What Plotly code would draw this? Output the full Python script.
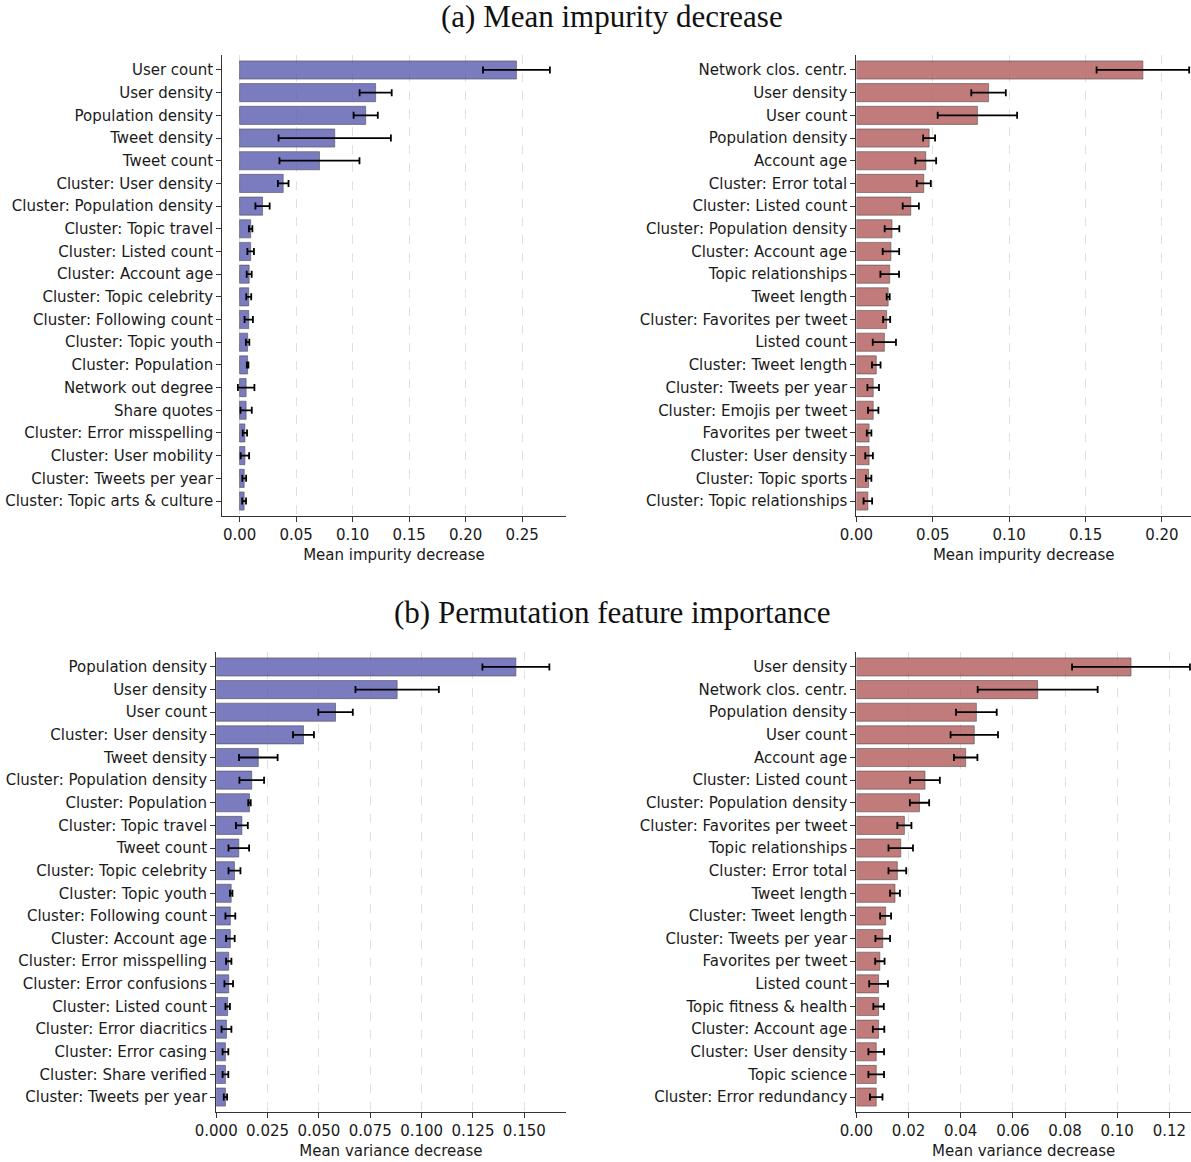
import plotly.graph_objects as go

# ---- (a) Mean impurity decrease, model 1 ----
mdi_left_features = [
    "User count", "User density", "Population density", "Tweet density", "Tweet count",
    "Cluster: User density", "Cluster: Population density", "Cluster: Topic travel",
    "Cluster: Listed count", "Cluster: Account age", "Cluster: Topic celebrity",
    "Cluster: Following count", "Cluster: Topic youth", "Cluster: Population",
    "Network out degree", "Share quotes", "Cluster: Error misspelling",
    "Cluster: User mobility", "Cluster: Tweets per year", "Cluster: Topic arts & culture",
]
mdi_left_mean = [0.245, 0.1204, 0.1116, 0.0842, 0.0707, 0.0386, 0.0203, 0.0098, 0.0098, 0.0085,
                 0.0081, 0.0081, 0.0071, 0.0071, 0.0058, 0.0058, 0.0047, 0.0047, 0.0041, 0.0040]
mdi_left_err = [0.0296, 0.0142, 0.0107, 0.0497, 0.0354, 0.0047, 0.0063, 0.0015, 0.0029, 0.0022,
                0.0022, 0.0037, 0.0015, 0.0007, 0.0073, 0.0050, 0.0019, 0.0037, 0.0017, 0.0017]

# ---- (a) Mean impurity decrease, model 2 ----
mdi_right_features = [
    "Network clos. centr.", "User density", "User count", "Population density", "Account age",
    "Cluster: Error total", "Cluster: Listed count", "Cluster: Population density",
    "Cluster: Account age", "Topic relationships", "Tweet length", "Cluster: Favorites per tweet",
    "Listed count", "Cluster: Tweet length", "Cluster: Tweets per year", "Cluster: Emojis per tweet",
    "Favorites per tweet", "Cluster: User density", "Cluster: Topic sports",
    "Cluster: Topic relationships",
]
mdi_right_mean = [0.1875, 0.0865, 0.0792, 0.0476, 0.0454, 0.0441, 0.0356, 0.0233, 0.0226, 0.0218,
                  0.0208, 0.0198, 0.0183, 0.0130, 0.0110, 0.0110, 0.0083, 0.0083, 0.0080, 0.0075]
mdi_right_err = [0.0303, 0.0113, 0.0260, 0.0039, 0.0068, 0.0046, 0.0053, 0.0048, 0.0054, 0.0061,
                 0.0010, 0.0023, 0.0076, 0.0028, 0.0038, 0.0034, 0.0015, 0.0025, 0.0018, 0.0028]

# ---- (b) Permutation feature importance, model 1 ----
pfi_left_features = [
    "Population density", "User density", "User count", "Cluster: User density", "Tweet density",
    "Cluster: Population density", "Cluster: Population", "Cluster: Topic travel", "Tweet count",
    "Cluster: Topic celebrity", "Cluster: Topic youth", "Cluster: Following count",
    "Cluster: Account age", "Cluster: Error misspelling", "Cluster: Error confusions",
    "Cluster: Listed count", "Cluster: Error diacritics", "Cluster: Error casing",
    "Cluster: Share verified", "Cluster: Tweets per year",
]
pfi_left_mean = [0.1459, 0.0881, 0.0581, 0.0425, 0.0205, 0.0173, 0.0162, 0.0125, 0.0110, 0.0089,
                 0.0073, 0.0069, 0.0069, 0.0061, 0.0061, 0.0056, 0.0050, 0.0045, 0.0045, 0.0045]
pfi_left_err = [0.0163, 0.0203, 0.0084, 0.0051, 0.0094, 0.0060, 0.0006, 0.0029, 0.0050, 0.0029,
                0.0006, 0.0024, 0.0021, 0.0013, 0.0021, 0.0011, 0.0024, 0.0014, 0.0014, 0.0008]

# ---- (b) Permutation feature importance, model 2 ----
pfi_right_features = [
    "User density", "Network clos. centr.", "Population density", "User count", "Account age",
    "Cluster: Listed count", "Cluster: Population density", "Cluster: Favorites per tweet",
    "Topic relationships", "Cluster: Error total", "Tweet length", "Cluster: Tweet length",
    "Cluster: Tweets per year", "Favorites per tweet", "Listed count", "Topic fitness & health",
    "Cluster: Account age", "Cluster: User density", "Topic science", "Cluster: Error redundancy",
]
pfi_right_mean = [0.1053, 0.0695, 0.0460, 0.0452, 0.0419, 0.0263, 0.0242, 0.0184, 0.0170, 0.0157,
                  0.0148, 0.0112, 0.0101, 0.0090, 0.0085, 0.0085, 0.0085, 0.0076, 0.0076, 0.0076]
pfi_right_err = [0.0226, 0.0230, 0.0078, 0.0091, 0.0045, 0.0057, 0.0037, 0.0027, 0.0047, 0.0034,
                 0.0019, 0.0021, 0.0028, 0.0018, 0.0036, 0.0020, 0.0022, 0.0030, 0.0030, 0.0024]

x_ticks_a = [0.0, 0.05, 0.10, 0.15, 0.20, 0.25]
x_ticks_b_left = [0.0, 0.025, 0.05, 0.075, 0.10, 0.125, 0.15]
x_ticks_b_right = [0.0, 0.02, 0.04, 0.06, 0.08, 0.10, 0.12]

BLUE = "rgba(90, 90, 176, 0.8)"
RED = "rgba(179, 90, 90, 0.8)"

W, H = 1191, 1162


def dom_x(a, b):
    return [a / W, min(b / W, 1.0)]


def dom_y(top, bottom):
    return [1 - bottom / H, 1 - top / H]


# panel: (features, means, errs, color, x domain px, y domain px, x range, ticks, fmt, xlabel)
panels = [
    (mdi_left_features, mdi_left_mean, mdi_left_err, BLUE, (222.3, 565.6), (55, 516),
     [-0.0153, 0.2885], x_ticks_a, ".2f", "Mean impurity decrease"),
    (mdi_right_features, mdi_right_mean, mdi_right_err, RED, (856.4, 1191), (55, 516),
     [0.0, 0.219], x_ticks_a, ".2f", "Mean impurity decrease"),
    (pfi_left_features, pfi_left_mean, pfi_left_err, BLUE, (216.2, 565.6), (652, 1112),
     [0.0, 0.1701], x_ticks_b_left, ".3f", "Mean variance decrease"),
    (pfi_right_features, pfi_right_mean, pfi_right_err, RED, (856.4, 1191), (652, 1112),
     [0.0, 0.1283], x_ticks_b_right, ".2f", "Mean variance decrease"),
]

fig = go.Figure()
tick_font = dict(family="DejaVu Sans", size=15, color="#1a1a1a")

for i, (feats, means, errs, color, xd, yd, xr, ticks, fmt, xlabel) in enumerate(panels, start=1):
    xa = "x" if i == 1 else f"x{i}"
    ya = "y" if i == 1 else f"y{i}"
    pos = list(range(len(feats)))
    fig.add_trace(go.Bar(
        x=means, y=pos, orientation="h", width=0.8,
        marker=dict(color=color, line=dict(color="rgba(70,70,70,0.55)", width=1)),
        error_x=dict(type="data", array=errs, visible=True, color="black",
                     thickness=1.8, width=3.5),
        xaxis=xa, yaxis=ya, showlegend=False,
    ))
    n = len(feats)
    fig.layout[f"xaxis{'' if i == 1 else i}"] = dict(
        domain=dom_x(*xd), anchor=ya, range=xr, autorange=False, automargin=False,
        tickvals=ticks, tickformat=fmt, tickfont=tick_font,
        ticks="outside", ticklen=5, tickwidth=1, tickcolor="#333333",
        showline=True, linecolor="#333333", linewidth=1.2,
        showgrid=True, gridcolor="#e0e0e0", griddash="dash", gridwidth=1,
        zeroline=False,
        title=dict(text=xlabel, font=tick_font, standoff=6),
    )
    fig.layout[f"yaxis{'' if i == 1 else i}"] = dict(
        domain=dom_y(*yd), anchor=xa, range=[n - 1 + 0.66, -0.66], autorange=False,
        automargin=False,
        tickvals=pos, ticktext=feats, tickfont=tick_font,
        ticks="outside", ticklen=5, tickwidth=1, tickcolor="#333333",
        showline=True, linecolor="#333333", linewidth=1.2,
        showgrid=False, zeroline=False,
    )

title_font = dict(family="Liberation Serif", size=31, color="#111111")
fig.add_annotation(text="(a) Mean impurity decrease", x=612 / W, y=1 - 16 / H,
                   xref="paper", yref="paper", showarrow=False, font=title_font,
                   xanchor="center", yanchor="middle")
fig.add_annotation(text="(b) Permutation feature importance", x=612 / W, y=1 - 612 / H,
                   xref="paper", yref="paper", showarrow=False, font=title_font,
                   xanchor="center", yanchor="middle")

fig.update_layout(
    width=W, height=H, margin=dict(l=0, r=0, t=0, b=0, autoexpand=False),
    paper_bgcolor="white", plot_bgcolor="white", bargap=0.2,
)

fig.write_html("out.html")
